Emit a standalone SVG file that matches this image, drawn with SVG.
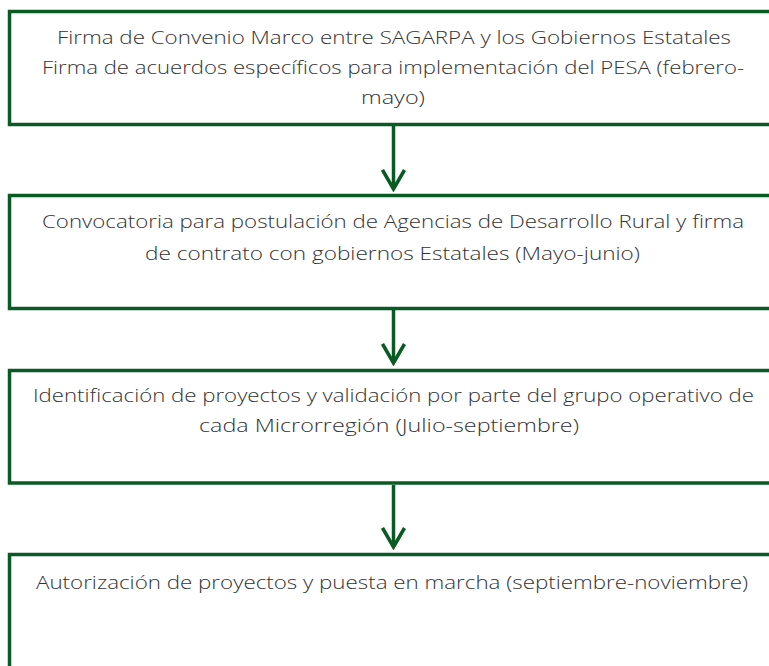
<svg xmlns="http://www.w3.org/2000/svg" width="769" height="666" viewBox="0 0 769 666">
<style>
.box{fill:#fff;stroke:#0a5a24;stroke-width:3.5}
.con{stroke:#0a5a24;stroke-width:3.5;fill:none}
text{font-family:"Open Sans","Liberation Sans",sans-serif;font-size:18.5px;fill:#333;font-weight:300}
</style>
<defs>
<marker id="ah" markerUnits="userSpaceOnUse" viewBox="0 0 24 26" refX="21" refY="13" markerWidth="24" markerHeight="26" orient="auto">
<path d="M2,2 L21,13 L2,24" fill="none" stroke="#0a5a24" stroke-width="3.5"/>
</marker>
</defs>
<rect width="769" height="666" fill="#fff"/>
<g id="connectors">
<path class="con" d="M393.5,126 V189" marker-end="url(#ah)"/>
<path class="con" d="M393.5,310 V363" marker-end="url(#ah)"/>
<path class="con" d="M393.5,485 V547" marker-end="url(#ah)"/>
</g>
<g id="n1">
<rect class="box" x="9.5" y="11.5" width="780" height="113"/>
<text x="57" y="44" textLength="674" lengthAdjust="spacingAndGlyphs">Firma de Convenio Marco entre SAGARPA y los Gobiernos Estatales</text>
<text x="42" y="74" textLength="702" lengthAdjust="spacingAndGlyphs">Firma de acuerdos específicos para implementación del PESA (febrero-</text>
<text x="361" y="104" textLength="64" lengthAdjust="spacingAndGlyphs">mayo)</text>
</g>
<g id="n2">
<rect class="box" x="9.5" y="195.5" width="780" height="113"/>
<text x="42" y="228" textLength="702" lengthAdjust="spacingAndGlyphs">Convocatoria para postulación de Agencias de Desarrollo Rural y firma</text>
<text x="145" y="260" textLength="495" lengthAdjust="spacingAndGlyphs">de contrato con gobiernos Estatales (Mayo-junio)</text>
</g>
<g id="n3">
<rect class="box" x="9.5" y="370.5" width="780" height="112.5"/>
<text x="33" y="402" textLength="721" lengthAdjust="spacingAndGlyphs">Identificación de proyectos y validación por parte del grupo operativo de</text>
<text x="199" y="432" textLength="380" lengthAdjust="spacingAndGlyphs">cada Microrregión (Julio-septiembre)</text>
</g>
<g id="n4">
<rect class="box" x="9.5" y="554.5" width="780" height="140"/>
<text x="36" y="589" textLength="712" lengthAdjust="spacingAndGlyphs">Autorización de proyectos y puesta en marcha (septiembre-noviembre)</text>
</g>
</svg>
